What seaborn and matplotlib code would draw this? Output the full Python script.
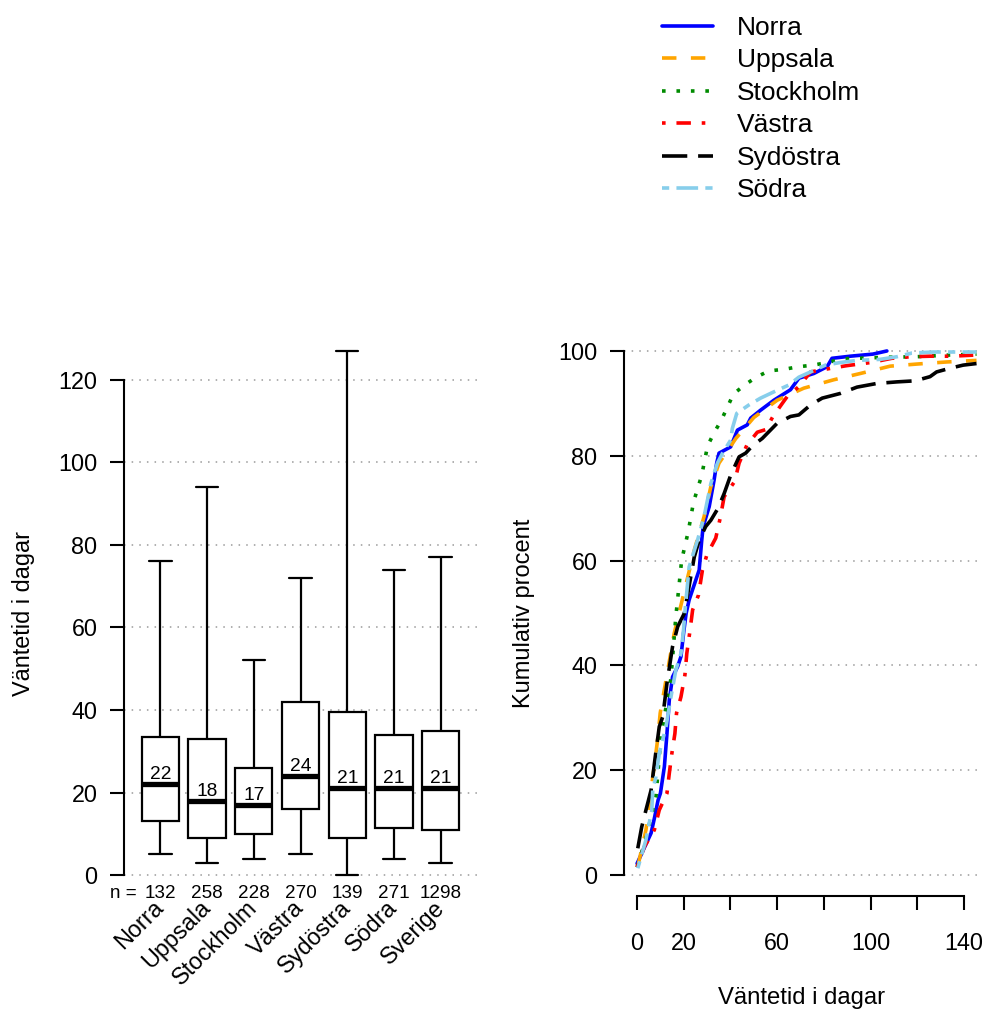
import numpy as np
import pandas as pd
import matplotlib
matplotlib.use("Agg")
import matplotlib.pyplot as plt
import seaborn as sns

# ---------------- data: box plot ----------------
regions = ["Norra", "Uppsala", "Stockholm", "Västra", "Sydöstra", "Södra", "Sverige"]
n_counts = [132, 258, 228, 270, 139, 271, 1298]
whisk_low = [5, 3, 4, 5, 0, 4, 3]
q1 = [13, 9, 10, 16, 9, 11.5, 11]
medians = [22, 18, 17, 24, 21, 21, 21]
q3 = [33.5, 33, 26, 42, 39.5, 34, 35]
whisk_high = [76, 94, 52, 72, 127, 74, 77]

# ---------------- data: cumulative curves ----------------
norra_x = [0, 3, 6, 7.5, 9, 10, 11.7, 12.8, 13.8, 15.2, 17.4, 18.8, 19.9, 21, 22.3, 26.6, 27.7, 28.3,
           30.9, 33, 34.1, 35.1, 40.1, 43, 47.2, 48.7, 52.9, 58.6, 65.7, 69.3, 75.7, 81.4, 83.5, 91.3, 101, 107]
norra_y = [2.2, 5.1, 8, 11, 14.3, 15.6, 20.7, 27, 33.4, 37.8, 39.8, 41.7, 46.1, 49.9, 52.5, 58.2, 63.9, 66.5,
           70.3, 75.4, 78.6, 80.5, 81.7, 84.9, 85.9, 87.2, 88.7, 90.6, 92.6, 94.8, 95.7, 97, 98.6, 99, 99.4, 100]

uppsala_x = [0.3, 3.8, 8.8, 9.9, 15.9, 18.8, 24.5, 28.7, 31.6, 35.1, 42.3, 50, 60, 71.4, 84.2, 95.6,
             108.4, 119.8, 132.6, 145.4]
uppsala_y = [1.6, 8.6, 25.8, 30.9, 46.1, 51.5, 62, 68.4, 74.1, 78.6, 83.3, 87.3, 90.6, 92.9, 94.5, 95.7,
             97.1, 97.5, 97.9, 98.2]

stockholm_x = [0, 3.8, 8.1, 10.2, 14.5, 16.6, 19.1, 21.9, 24.2, 27.7, 30.2, 33, 36.1, 41.3, 46.1, 51,
               56.5, 62.9, 69.3, 75.4, 81.7, 87.8, 94.2, 107, 119.8, 132.6, 145.4]
stockholm_y = [1.5, 7, 15, 26.4, 37.5, 49.3, 60.1, 65.5, 71.2, 76.3, 81.9, 84.4, 86.8, 91.8, 93.5, 95,
               96.2, 96.5, 97, 97.3, 97.8, 98.5, 98.6, 98.8, 98.9, 99.2, 99.4]

vastra_x = [0, 3.1, 7.4, 9.5, 12.8, 13.8, 14.9, 16.2, 16.9, 18.8, 20.5, 21.3, 22.5, 23.8, 26.3, 28, 29.9,
            33.7, 35.6, 37.3, 41.8, 43.7, 47, 51.5, 55.1, 58.2, 62.2, 64.3, 69.3, 74.3, 83.1, 89.9, 100.2,
            109.1, 117.2, 125.5, 134.7, 144]
vastra_y = [1.5, 5.4, 8.6, 12.4, 15.6, 19.4, 23.2, 27, 30.9, 34, 38.2, 42.3, 46.1, 50.6, 53.4, 58.2, 61.1,
            64.3, 68.1, 72.2, 75.1, 78.6, 82, 84.5, 85, 87.5, 90, 91.3, 93.2, 96, 96.7, 97.2, 97.8,
            98.6, 98.9, 99, 99, 99.2]

sydostra_x = [0.3, 2, 3.8, 6, 7.8, 9.5, 11, 12.8, 15.2, 17.4, 20.2, 24.5, 26.6, 29.4, 31.6, 34.7, 37.3,
              40.1, 43.7, 46.5, 49.4, 53.6, 60, 65.7, 69.3, 74.3, 79.3, 87.1, 94.2, 102.7, 111.3, 119.1,
              125.5, 128.3, 134, 139.7, 145.4]
sydostra_y = [5.1, 9.2, 12.4, 16.2, 22.6, 28.3, 30.2, 36.6, 43.6, 47.4, 49.9, 60.7, 63.9, 66.5, 67.7, 70,
              72.8, 76.3, 79.8, 80.5, 81.9, 83.3, 86.2, 87.5, 87.8, 89.7, 91, 91.9, 93.1, 93.8, 94.1, 94.3,
              95.1, 96, 96.7, 97.3, 97.6]

sodra_x = [0.3, 3.8, 6.3, 6.7, 8.1, 9.5, 12.4, 13.8, 14.8, 16.6, 18.8, 19.9, 20.7, 22.3, 25.9, 28.7, 31.6,
           34.4, 36.6, 40.1, 40.8, 42.7, 47.9, 52.9, 58.6, 65, 69.3, 74.3, 80.7, 87.1, 94.2, 104.1, 111.3,
           117.7, 126.9, 136.8, 145.4]
sodra_y = [1.3, 6.7, 12.4, 16.2, 18.8, 23.2, 28.3, 32.1, 34.7, 39.1, 42.3, 46.8, 51.2, 58.8, 63.9, 68.4,
           74.7, 78.6, 80.5, 83, 85.2, 88.1, 89.7, 91, 92.2, 93.5, 95, 96, 97.3, 97.8, 98.2, 98.4, 98.9,
           99.6, 99.8, 99.8, 99.8]

curve_names = ["Norra", "Uppsala", "Stockholm", "Västra", "Sydöstra", "Södra"]
curve_x = [norra_x, uppsala_x, stockholm_x, vastra_x, sydostra_x, sodra_x]
curve_y = [norra_y, uppsala_y, stockholm_y, vastra_y, sydostra_y, sodra_y]
curve_colors = ["#0000FF", "#FFA500", "#008B00", "#FF0000", "#000000", "#87CEEB"]
curve_styles = ["-", (0, (4, 4)), (0, (1, 3)), (0, (1, 3, 4, 3)), (0, (7, 3)), (0, (2, 2, 6, 2))]

x_ticks = [0, 20, 40, 60, 80, 100, 120, 140]
x_ticklabels = ["0", "20", "", "60", "", "100", "", "140"]

# ---------------- style ----------------
sns.set_style("ticks", rc={"axes.edgecolor": "black", "xtick.color": "black", "ytick.color": "black",
                           "text.color": "black", "axes.labelcolor": "black"})
plt.rcParams["font.family"] = ["Liberation Sans", "DejaVu Sans"]

W, H = 985, 1010
fig = plt.figure(figsize=(W / 100, H / 100), dpi=100)

def ax_rect(x0, x1, y0, y1):
    return [x0 / W, 1 - y1 / H, (x1 - x0) / W, (y1 - y0) / H]

ax1 = fig.add_axes(ax_rect(124, 477, 330, 896))
ax2 = fig.add_axes(ax_rect(624, 977, 330, 896))

grid_kw = dict(color="#9a9a9a", linestyle=(0, (1, 4)), linewidth=1.1)

# ---------------- left: box plot ----------------
box_df = pd.DataFrame({
    "region": np.repeat(regions, 5),
    "value": np.ravel(np.column_stack([whisk_low, q1, medians, q3, whisk_high])),
})
sns.boxplot(data=box_df, x="region", y="value", order=regions, whis=(0, 100), width=0.8,
            color="white", saturation=1, linecolor="black", linewidth=1.6,
            medianprops=dict(linewidth=3.8, color="black", solid_capstyle="butt"),
            capwidths=0.48, ax=ax1)
ax1.set_axisbelow(True)
ax1.yaxis.grid(True, **grid_kw)
ax1.xaxis.grid(False)
ax1.set_xlim(-0.78, 6.78)
ax1.set_ylim(-5.08, 132.08)
ax1.set_yticks(range(0, 121, 20))
for s in ["top", "right", "bottom"]:
    ax1.spines[s].set_visible(False)
ax1.spines["left"].set_bounds(0, 120)
ax1.spines["left"].set_linewidth(1.5)
ax1.tick_params(axis="y", length=10, width=1.5, pad=9, labelsize=16.8, direction="out")
ax1.tick_params(axis="x", length=0, pad=6, labelsize=16.8)
ax1.set_xticks(range(len(regions)))
ax1.set_xticklabels(regions, rotation=45, ha="right", va="center", rotation_mode="anchor")
ax1.set_xlabel("")
ax1.set_ylabel("Väntetid i dagar", fontsize=16.9, va="center")
ax1.yaxis.set_label_coords((24 - 124) / 353, 0.5)

for i, m in enumerate(medians):
    ax1.text(i, m + 0.3, str(m), ha="center", va="bottom", fontsize=13.8)
for i, n in enumerate(n_counts):
    ax1.text(i, -4.4, str(n), ha="center", va="center", fontsize=13.6)
ax1.text(-0.5, -4.4, "n =", ha="right", va="center", fontsize=13.6)

# ---------------- right: cumulative curves ----------------
for name, xs, ys, c, ls in zip(curve_names, curve_x, curve_y, curve_colors, curve_styles):
    sns.lineplot(x=xs, y=ys, ax=ax2, color=c, linewidth=2.6, linestyle=ls,
                 estimator=None, sort=False, legend=False)
    ax2.lines[-1].set_label(name)

ax2.set_axisbelow(True)
ax2.yaxis.grid(True, **grid_kw)
ax2.xaxis.grid(False)
ax2.set_xlim(-5.6, 145.6)
ax2.set_ylim(-4, 104)
ax2.set_yticks(range(0, 101, 20))
ax2.set_xticks(x_ticks)
ax2.set_xticklabels(x_ticklabels)
for s in ["top", "right"]:
    ax2.spines[s].set_visible(False)
ax2.spines["left"].set_bounds(0, 100)
ax2.spines["bottom"].set_bounds(0, 140)
ax2.spines["left"].set_linewidth(1.5)
ax2.spines["bottom"].set_linewidth(1.5)
ax2.tick_params(axis="y", length=10, width=1.5, pad=9, labelsize=16.8, direction="out")
ax2.tick_params(axis="x", length=10, width=1.5, pad=16, labelsize=16.8, direction="out")
ax2.set_ylabel("Kumulativ procent", fontsize=17, va="center")
ax2.yaxis.set_label_coords((524 - 624) / 353, 0.5)
ax2.set_xlabel("Väntetid i dagar", fontsize=17.2, va="center")
ax2.xaxis.set_label_coords((802 - 624) / 353, (896 - 998) / 566)

handles = ax2.lines[:len(curve_names)]
fig.legend(handles, curve_names, loc="upper left", bbox_to_anchor=(662 / W, 1 - 16 / H),
           frameon=False, fontsize=19, borderpad=0, borderaxespad=0, handlelength=1.93,
           handletextpad=0.9, labelspacing=0.32)

fig.savefig("out.png", dpi=100)
